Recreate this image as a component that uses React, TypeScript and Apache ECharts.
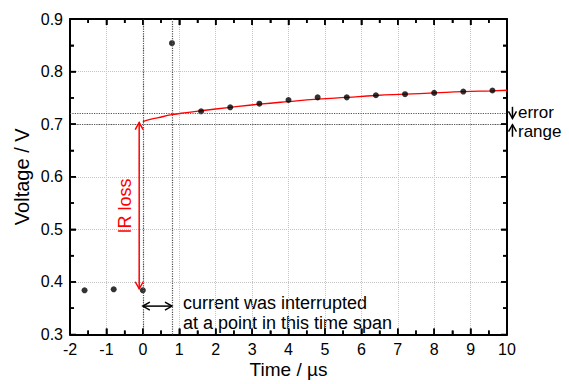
import React, { useEffect, useRef } from "react";
import * as echarts from "echarts";

// Measured points
const timeValues = [-1.6, -0.8, 0, 0.8, 1.6, 2.4, 3.2, 4.0, 4.8, 5.6, 6.4, 7.2, 8.0, 8.8, 9.6];
const voltageValues = [0.384, 0.386, 0.384, 0.854, 0.7245, 0.732, 0.739, 0.746, 0.751, 0.751, 0.755, 0.757, 0.7595, 0.762, 0.764];

// Fitted curve
const fitTimes = [0, 0.2, 0.4, 0.8, 1.2, 1.6, 2.4, 3.2, 4.0, 4.8, 5.6, 6.4, 7.2, 8.0, 8.8, 9.6, 10];
const fitVoltages = [0.705, 0.709, 0.712, 0.718, 0.722, 0.7255, 0.732, 0.738, 0.743, 0.7475, 0.751, 0.7545, 0.757, 0.7595, 0.762, 0.7635, 0.7645];

// Reference lines
const errorRangeLevels = [0.705, 0.718];
const interruptTimes = [0, 0.8];

// Tick positions (major / minor)
const xMajorTicks = [-2, -1, 0, 1, 2, 3, 4, 5, 6, 7, 8, 9, 10];
const xMinorTicks = [-1.5, -0.5, 0.5, 1.5, 2.5, 3.5, 4.5, 5.5, 6.5, 7.5, 8.5, 9.5];
const yMajorTicks = [0.3, 0.4, 0.5, 0.6, 0.7, 0.8, 0.9];
const yMinorTicks = [0.35, 0.45, 0.55, 0.65, 0.75, 0.85];

// Arrows: [x1, y1, x2, y2, headAtStart, headAtEnd]
const redArrows = [[-0.1, 0.703, -0.1, 0.387, 1, 1]];
const blackArrows = [
  [0, 0.354, 0.8, 0.354, 1, 1],
  [10.15, 0.733, 10.15, 0.711, 0, 1],
  [10.15, 0.676, 10.15, 0.699, 0, 1],
];

const X_MIN = -2;
const X_MAX = 10;
const Y_MIN = 0.3;
const Y_MAX = 0.9;

const FONT = "'Liberation Sans', Arial, Helvetica, sans-serif";

function arrowRender(color: string) {
  return (params: any, api: any) => {
    const p1 = api.coord([api.value(0), api.value(1)]);
    const p2 = api.coord([api.value(2), api.value(3)]);
    const hs = api.value(4);
    const he = api.value(5);
    const dx = p2[0] - p1[0];
    const dy = p2[1] - p1[1];
    const len = Math.sqrt(dx * dx + dy * dy) || 1;
    const ux = dx / len;
    const uy = dy / len;
    const L = 7;
    const W = 4;
    const children: any[] = [
      {
        type: "line",
        shape: { x1: p1[0], y1: p1[1], x2: p2[0], y2: p2[1] },
        style: { stroke: color, lineWidth: 1.5 },
      },
    ];
    const head = (tip: number[], dirx: number, diry: number) => {
      const bx = tip[0] + dirx * L;
      const by = tip[1] + diry * L;
      const px = -diry * W;
      const py = dirx * W;
      return {
        type: "polyline",
        shape: { points: [[bx + px, by + py], [tip[0], tip[1]], [bx - px, by - py]] },
        style: { stroke: color, lineWidth: 1.5, fill: null },
      };
    };
    if (hs) children.push(head(p1, ux, uy));
    if (he) children.push(head(p2, -ux, -uy));
    return { type: "group", children };
  };
}

function tickRender(params: any, api: any) {
  const v = api.value(0);
  const isY = api.value(1);
  const L = api.value(2);
  const st = { stroke: "#000", lineWidth: 1.5 };
  if (!isY) {
    const b = api.coord([v, Y_MIN]);
    const t = api.coord([v, Y_MAX]);
    return {
      type: "group",
      children: [
        { type: "line", shape: { x1: b[0], y1: b[1], x2: b[0], y2: b[1] - L }, style: st },
        { type: "line", shape: { x1: t[0], y1: t[1], x2: t[0], y2: t[1] + L }, style: st },
      ],
    };
  }
  const l = api.coord([X_MIN, v]);
  const r = api.coord([X_MAX, v]);
  return {
    type: "group",
    children: [
      { type: "line", shape: { x1: l[0], y1: l[1], x2: l[0] + L, y2: l[1] }, style: st },
      { type: "line", shape: { x1: r[0], y1: r[1], x2: r[0] - L, y2: r[1] }, style: st },
    ],
  };
}

function makeAxisParts() {
  return {
    axisLine: { show: true, onZero: false, lineStyle: { color: "#000", width: 2 } },
    axisTick: { show: true, inside: true, length: 6, lineStyle: { color: "#000", width: 1.5 } },
    minorTick: { show: true, splitNumber: 2, length: 4, lineStyle: { color: "#000", width: 1.5 } },
  };
}

const hiddenParts = {
  axisLine: { show: false },
  axisTick: { show: false },
  axisLabel: { show: false },
  splitLine: { show: false },
};

export default function App() {
  const ref = useRef<HTMLDivElement>(null);
  useEffect(() => {
    document.body.style.margin = "0";
    const chart = echarts.init(ref.current!, null, { renderer: "svg" });
    const gridSplit = { show: true, lineStyle: { color: "#c4c4c4", type: "dotted", width: 1 } };
    const tickData = [
      ...xMajorTicks.map((v) => [v, 0, 6]),
      ...xMinorTicks.map((v) => [v, 0, 4]),
      ...yMajorTicks.map((v) => [v, 1, 6]),
      ...yMinorTicks.map((v) => [v, 1, 4]),
    ];
    const option: any = {
      animation: false,
      grid: { left: 70, top: 19, width: 437, height: 319 },
      xAxis: [
        {
          type: "value",
          min: X_MIN,
          max: X_MAX,
          interval: 1,
          position: "bottom",
          ...makeAxisParts(),
          axisLabel: { color: "#000", fontSize: 16, margin: 7, fontFamily: FONT },
          splitLine: gridSplit,
        },
        {
          type: "value",
          min: X_MIN,
          max: X_MAX,
          interval: 1,
          position: "top",
          ...makeAxisParts(),
          axisLabel: { show: false },
          splitLine: { show: false },
        },
        {
          type: "value",
          min: X_MIN,
          max: X_MAX,
          position: "bottom",
          ...hiddenParts,
          name: "Time / \u00b5s",
          nameLocation: "middle",
          nameGap: 35,
          nameTextStyle: { fontSize: 19, color: "#000", fontFamily: FONT, verticalAlign: "middle" },
        },
      ],
      yAxis: [
        {
          type: "value",
          min: Y_MIN,
          max: Y_MAX,
          interval: 0.1,
          position: "left",
          ...makeAxisParts(),
          axisLabel: {
            color: "#000",
            fontSize: 16,
            margin: 7,
            fontFamily: FONT,
            formatter: (v: number) => v.toFixed(1),
          },
          splitLine: gridSplit,
        },
        {
          type: "value",
          min: Y_MIN,
          max: Y_MAX,
          interval: 0.1,
          position: "right",
          ...makeAxisParts(),
          axisLabel: { show: false },
          splitLine: { show: false },
        },
        {
          type: "value",
          min: Y_MIN,
          max: Y_MAX,
          position: "left",
          ...hiddenParts,
          name: "Voltage / V",
          nameLocation: "middle",
          nameGap: 48,
          nameTextStyle: { fontSize: 20, color: "#000", fontFamily: FONT, verticalAlign: "middle" },
        },
      ],
      series: [
        {
          type: "line",
          name: "fit",
          data: fitTimes.map((t, i) => [t, fitVoltages[i]]),
          smooth: true,
          showSymbol: false,
          symbol: "none",
          lineStyle: { color: "#ff0000", width: 1.3 },
          z: 3,
          markLine: {
            silent: true,
            symbol: "none",
            label: { show: false },
            lineStyle: { color: "#555", type: "dotted", width: 1.2 },
            data: [
              ...errorRangeLevels.map((v) => ({ yAxis: v })),
              ...interruptTimes.map((v) => ({ xAxis: v })),
            ],
          },
        },
        {
          type: "scatter",
          name: "data",
          data: timeValues.map((t, i) => [t, voltageValues[i]]),
          symbol: "circle",
          symbolSize: 6,
          itemStyle: { color: "#000" },
          z: 4,
        },
        {
          type: "custom",
          name: "ticks",
          data: tickData,
          renderItem: tickRender,
          clip: false,
          silent: true,
          z: 6,
        },
        {
          type: "custom",
          name: "redArrows",
          data: redArrows,
          renderItem: arrowRender("#ff0000"),
          clip: false,
          z: 5,
        },
        {
          type: "custom",
          name: "blackArrows",
          data: blackArrows,
          renderItem: arrowRender("#000"),
          clip: false,
          z: 5,
        },
      ],
      graphic: [
        {
          type: "text",
          x: 125,
          y: 206,
          rotation: Math.PI / 2,
          style: {
            text: "IR loss",
            fill: "#ff0000",
            fontSize: 18,
            fontFamily: FONT,
            align: "center",
            verticalAlign: "middle",
          },
        },
        {
          type: "text",
          x: 183,
          y: 313,
          style: {
            text: "current was interrupted\nat a point in this time span",
            fill: "#000",
            fontSize: 18,
            lineHeight: 20,
            fontFamily: FONT,
            align: "left",
            verticalAlign: "middle",
          },
        },
        {
          type: "text",
          x: 518,
          y: 112,
          style: { text: "error", fill: "#000", fontSize: 17, fontFamily: FONT, verticalAlign: "middle" },
        },
        {
          type: "text",
          x: 518,
          y: 131,
          style: { text: "range", fill: "#000", fontSize: 17, fontFamily: FONT, verticalAlign: "middle" },
        },
      ],
    };
    chart.setOption(option);
    return () => chart.dispose();
  }, []);
  return <div ref={ref} style={{ width: 569, height: 384 }} />;
}
